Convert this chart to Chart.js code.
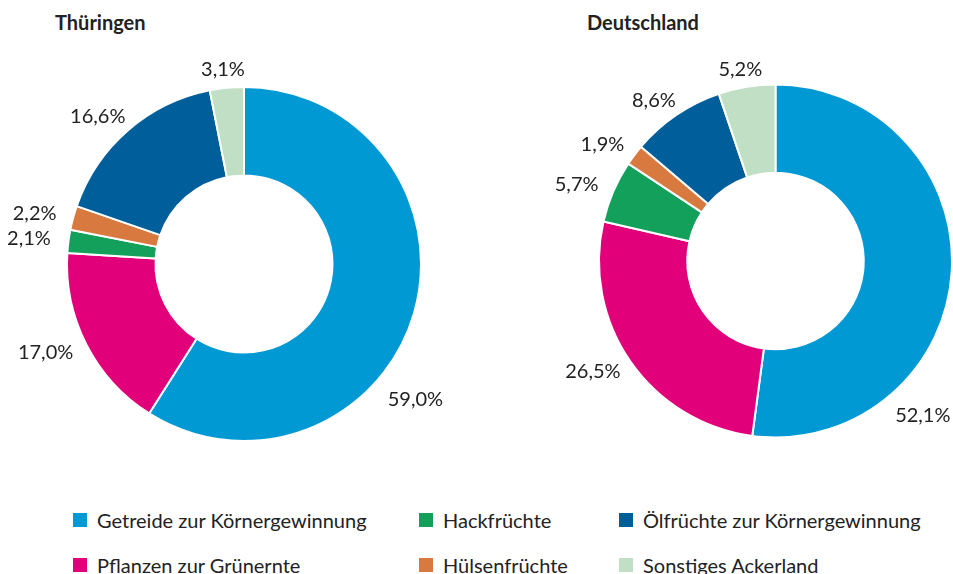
<!DOCTYPE html>
<html>
<head>
<meta charset="utf-8">
<script src="https://cdn.jsdelivr.net/npm/chart.js@4/dist/chart.umd.min.js"></script>
<style>
  body { margin: 0; width: 953px; height: 574px; overflow: hidden; background: #fff; font-family: Lato, sans-serif; color: #222; }
  canvas { position: absolute; top: 0; }
  .title { position: absolute; top: 10px; font-weight: bold; font-size: 20px; line-height: 24px; }
  .legend-item { position: absolute; font-size: 20px; line-height: 24px; white-space: nowrap; }
  .legend-item span { position: absolute; left: -24px; top: 5px; width: 14px; height: 14px; }
</style>
</head>
<body>
<div class="title" style="left:55px">Thüringen</div>
<div class="title" style="left:587px">Deutschland</div>
<canvas id="chartTh" width="476" height="490" style="left:0"></canvas>
<canvas id="chartDe" width="477" height="490" style="left:476px"></canvas>
<div id="legend"></div>
<script>
// Data
const categories = ['Getreide zur Körnergewinnung', 'Pflanzen zur Grünernte', 'Hackfrüchte', 'Hülsenfrüchte', 'Ölfrüchte zur Körnergewinnung', 'Sonstiges Ackerland'];
const thueringen = [59.0, 17.0, 2.1, 2.2, 16.6, 3.1];
const deutschland = [52.1, 26.5, 5.7, 1.9, 8.6, 5.2];
const colors = ['#0099d4', '#e2007a', '#13a05b', '#d87a40', '#005f9a', '#c0dfc4'];

// draws the percentages outside the ring
const outsideLabels = {
    id: 'outsideLabels',
    afterDatasetsDraw(chart, args, opts) {
        const ctx = chart.ctx;
        const meta = chart.getDatasetMeta(0);
        const values = chart.data.datasets[0].data;
        ctx.save();
        ctx.font = '20px Lato';
        ctx.fillStyle = '#222';
        ctx.textBaseline = 'middle';
        ctx.textAlign = 'left';
        meta.data.forEach((arc, i) => {
            const p = arc.getProps(['x', 'y', 'startAngle', 'endAngle', 'outerRadius'], true);
            let a = (p.startAngle + p.endAngle) / 2;
            let gap = opts.gap;
            const o = (opts.overrides || {})[i];
            if (o) {
                a = (o.angle - 90) * Math.PI / 180;
                gap = o.gap;
            }
            const r = p.outerRadius + gap;
            const ax = p.x + Math.cos(a) * r;
            const ay = p.y + Math.sin(a) * r;
            const text = values[i].toFixed(1).replace('.', ',') + '%';
            const w = ctx.measureText(text).width;
            ctx.fillText(text, ax - w * (1 - Math.cos(a)) / 2, ay);
        });
        ctx.restore();
    }
};

function makeDonut(id, values, padding, overrides) {
    return new Chart(document.getElementById(id), {
        type: 'doughnut',
        data: {
            labels: categories,
            datasets: [{
                data: values,
                backgroundColor: colors,
                borderColor: '#fff',
                borderWidth: 2
            }]
        },
        options: {
            responsive: false,
            animation: false,
            cutout: '50%',
            layout: { padding },
            plugins: {
                legend: { display: false },
                tooltip: { enabled: false },
                outsideLabels: { gap: 18, overrides }
            }
        },
        plugins: [outsideLabels]
    });
}

makeDonut('chartTh', thueringen, { left: 66, top: 86, right: 54, bottom: 48 }, { 0: { angle: 132, gap: 26 } });
makeDonut('chartDe', deutschland, { left: 122, top: 83, right: 0, bottom: 51 }, { 0: { angle: 140, gap: 25 } });

// HTML legend, column-major like the reference
const legendCols = [97, 443, 643];
const legendRows = [508, 553];
const legend = document.getElementById('legend');
categories.forEach((c, i) => {
    const div = document.createElement('div');
    div.className = 'legend-item';
    div.style.left = legendCols[Math.floor(i / 2)] + 'px';
    div.style.top = legendRows[i % 2] + 'px';
    div.innerHTML = `<span style="background:${colors[i]}"></span>${c}`;
    legend.appendChild(div);
});
</script>
</body>
</html>
